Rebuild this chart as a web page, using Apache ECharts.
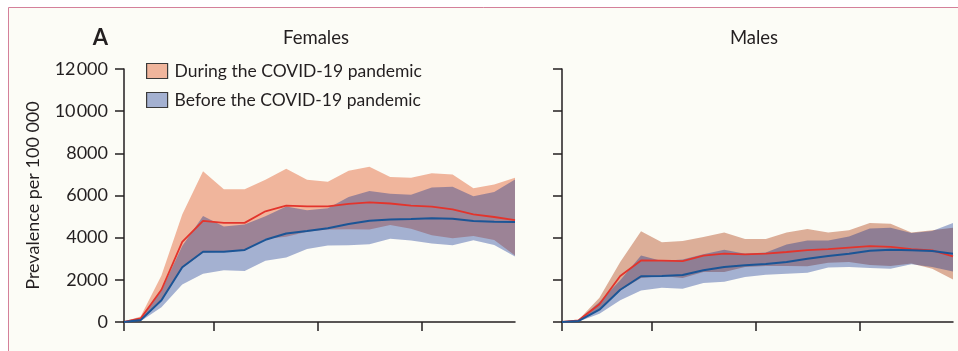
<!DOCTYPE html>
<html>
<head>
<meta charset="utf-8">
<script src="https://cdn.jsdelivr.net/npm/echarts@6/dist/echarts.min.js"></script>
<style>
  html, body { margin: 0; padding: 0; background: #ffffff; }
  #chart { width: 958px; height: 351px; }
</style>
</head>
<body>
<div id="chart"></div>
<script>
// Age (years) at which each estimate is plotted
const ages = [0.7, 1.5, 2.5, 3.5, 4.5, 5.5, 6.5, 7.5, 8.5, 9.5, 10.5, 11.5, 12.5, 13.5, 14.5, 15.5, 16.5, 17.5, 18.5, 19.5];
const xTicks = [0.7, 5, 10, 15];

// Females: prevalence per 100 000 with uncertainty bounds
const femDuring   = [0, 170, 1530, 3800, 4800, 4700, 4700, 5250, 5520, 5480, 5480, 5600, 5670, 5620, 5520, 5470, 5340, 5100, 4980, 4830];
const femDuringHi = [20, 260, 2200, 5100, 7150, 6300, 6300, 6750, 7270, 6750, 6650, 7170, 7360, 6880, 6840, 7050, 7000, 6340, 6520, 6840];
const femDuringLo = [0, 110, 1000, 2550, 3280, 3340, 3380, 3950, 4040, 4280, 4390, 4400, 4390, 4600, 4420, 4120, 3970, 4080, 3890, 3150];
const femBefore   = [0, 90, 1030, 2600, 3330, 3330, 3420, 3900, 4200, 4320, 4450, 4650, 4800, 4860, 4880, 4920, 4900, 4790, 4760, 4740];
const femBeforeHi = [20, 200, 1500, 3600, 5030, 4530, 4630, 5010, 5480, 5300, 5400, 5930, 6210, 6080, 6040, 6380, 6410, 5960, 6170, 6760];
const femBeforeLo = [0, 40, 700, 1780, 2290, 2450, 2420, 2900, 3060, 3460, 3630, 3640, 3690, 3950, 3870, 3720, 3640, 3880, 3650, 3110];

// Males
const maleDuring   = [0, 80, 840, 2180, 2920, 2910, 2890, 3150, 3240, 3210, 3240, 3320, 3410, 3460, 3530, 3600, 3560, 3460, 3400, 3110];
const maleDuringHi = [20, 110, 1150, 2850, 4300, 3780, 3840, 4030, 4240, 3940, 3940, 4250, 4410, 4250, 4350, 4700, 4660, 4240, 4350, 4470];
const maleDuringLo = [0, 40, 585, 1500, 2090, 2180, 2090, 2370, 2370, 2610, 2660, 2660, 2640, 2810, 2850, 2700, 2660, 2770, 2530, 2020];
const maleBefore   = [0, 50, 585, 1530, 2170, 2180, 2230, 2450, 2610, 2690, 2750, 2850, 3000, 3130, 3240, 3380, 3430, 3400, 3370, 3240];
const maleBeforeHi = [20, 90, 950, 1980, 3150, 2890, 2960, 3210, 3430, 3240, 3300, 3680, 3870, 3870, 4060, 4430, 4470, 4220, 4320, 4700];
const maleBeforeLo = [0, 20, 395, 1030, 1500, 1630, 1580, 1850, 1910, 2130, 2240, 2290, 2340, 2580, 2610, 2560, 2530, 2740, 2610, 2400];

const DURING = 'During the COVID-19 pandemic';
const BEFORE = 'Before the COVID-19 pandemic';

const ink = '#231f20';
const font = 'Lato';
const duringFill = '#f0b59c';
const duringFillMale = '#dcae98';
const beforeFill = 'rgba(0, 38, 140, 0.35)';
const beforeKey = '#a4b1d1';
const duringLine = '#e3342c';
const beforeLine = '#1b5596';

const pairs = (ys) => ages.map((a, i) => [a, ys[i]]);

// Uncertainty interval drawn as one closed polygon in axis coordinates
function bandSeries(idx, name, lo, hi, fill) {
  return {
    type: 'custom', name: name, xAxisIndex: idx, yAxisIndex: idx,
    silent: true, animation: false,
    data: ages.map((a, i) => [a, lo[i], hi[i]]),
    encode: { x: 0, y: [1, 2] },
    renderItem: (params, api) => {
      if (params.dataIndex !== 0) return null;
      const top = ages.map((a, i) => api.coord([a, hi[i]]));
      const bottom = ages.map((a, i) => api.coord([a, lo[i]])).reverse();
      return {
        type: 'polygon',
        shape: { points: top.concat(bottom) },
        style: { fill: fill, stroke: null }
      };
    }
  };
}

function lineSeries(idx, name, ys, color, width) {
  return {
    type: 'line', name: name, xAxisIndex: idx, yAxisIndex: idx, data: pairs(ys),
    symbol: 'none', silent: true, animation: false,
    lineStyle: { color: color, width: width }
  };
}

function xAxisFor(idx) {
  return {
    type: 'value', gridIndex: idx, min: ages[0], max: ages[ages.length - 1],
    axisLine: { show: true, lineStyle: { color: ink, width: 1.5 } },
    axisTick: { show: true, customValues: xTicks, length: 9, lineStyle: { color: ink, width: 1.5 } },
    axisLabel: { show: false },
    splitLine: { show: false }
  };
}

function yAxisFor(idx, withLabels) {
  return {
    type: 'value', gridIndex: idx, min: 0, max: 12000, interval: 2000,
    name: withLabels ? 'Prevalence per 100 000' : '',
    nameLocation: 'middle', nameGap: 82, nameRotate: 90,
    nameTextStyle: { color: ink, fontFamily: font, fontSize: 18 },
    axisLine: { show: true, lineStyle: { color: ink, width: 1.5 } },
    axisTick: { show: true, length: 9, lineStyle: { color: ink, width: 1.5 } },
    axisLabel: {
      show: withLabels, margin: 16, color: ink, fontFamily: font, fontSize: 18,
      formatter: (v) => v >= 10000 ? String(v).replace(/(\d{2})(\d{3})$/, '$1\u200a$2') : String(v)
    },
    splitLine: { show: false }
  };
}

const chart = echarts.init(document.getElementById('chart'), null, { renderer: 'canvas' });
chart.setOption({
  backgroundColor: '#ffffff',
  animation: false,
  graphic: [
    { type: 'rect', z: -10, silent: true,
      shape: { x: 8.5, y: 7.5, width: 1000, height: 400 },
      style: { fill: '#fcfcf6', stroke: '#d4809a', lineWidth: 1 } },
    { type: 'text', x: 100.5, y: 38, silent: true,
      style: { text: 'A', fill: ink, font: 'bold 22px ' + font, align: 'center', verticalAlign: 'middle' } },
    { type: 'text', x: 316, y: 38, silent: true,
      style: { text: 'Females', fill: ink, font: '18.5px ' + font, align: 'center', verticalAlign: 'middle' } },
    { type: 'text', x: 754, y: 38, silent: true,
      style: { text: 'Males', fill: ink, font: '18.5px ' + font, align: 'center', verticalAlign: 'middle' } }
  ],
  legend: {
    orient: 'vertical', left: 146, top: 62, padding: 0,
    itemWidth: 21, itemHeight: 15, itemGap: 11,
    selectedMode: false,
    textStyle: { color: ink, fontFamily: font, fontSize: 17.5, padding: [0, 0, 0, 2] },
    data: [
      { name: DURING, icon: 'rect', itemStyle: { color: duringFill, borderColor: '#3a3a3a', borderWidth: 1.2 } },
      { name: BEFORE, icon: 'rect', itemStyle: { color: beforeKey, borderColor: '#3a3a3a', borderWidth: 1.2 } }
    ]
  },
  grid: [
    { left: 124, top: 69, width: 391, height: 253 },
    { left: 562, top: 69, width: 391, height: 253 }
  ],
  xAxis: [xAxisFor(0), xAxisFor(1)],
  yAxis: [yAxisFor(0, true), yAxisFor(1, false)],
  series: [
    bandSeries(0, DURING, femDuringLo, femDuringHi, duringFill),
    bandSeries(0, BEFORE, femBeforeLo, femBeforeHi, beforeFill),
    bandSeries(1, DURING, maleDuringLo, maleDuringHi, duringFillMale),
    bandSeries(1, BEFORE, maleBeforeLo, maleBeforeHi, beforeFill),
    lineSeries(0, DURING, femDuring, duringLine, 1.8),
    lineSeries(0, BEFORE, femBefore, beforeLine, 2),
    lineSeries(1, DURING, maleDuring, duringLine, 1.8),
    lineSeries(1, BEFORE, maleBefore, beforeLine, 2)
  ]
});
</script>
</body>
</html>
